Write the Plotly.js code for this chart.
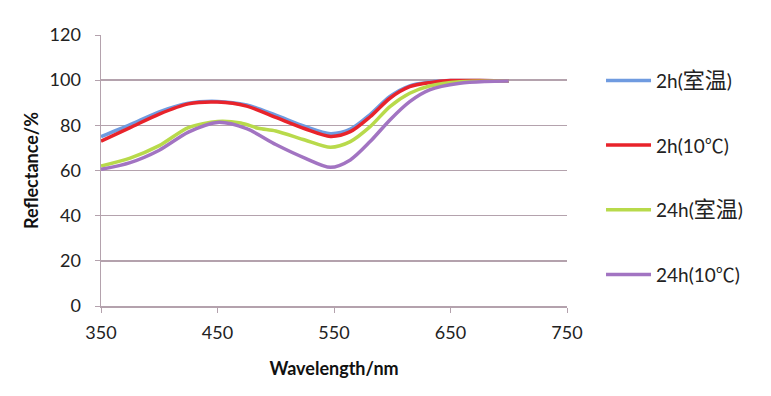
<!DOCTYPE html>
<html><head><meta charset="utf-8">
<script src="https://cdn.plot.ly/plotly-3.0.1.min.js"></script>
<style>html,body{margin:0;padding:0;background:#fff}#chart{width:771px;height:396px}</style>
</head><body><div id="chart"></div>
<script>
const seriesNames = ["2h(室温)", "2h(10℃)", "24h(室温)", "24h(10℃)"];
const colors = ["#6f9be0", "#e8232b", "#b8da4b", "#a274c2"];
const wlBlue = [350,375,400,425,450,475,500,525,547,564,581,598,615,632,650,675,700];
const blue   = [75,80.3,86,89.8,90.6,89,84.5,79.5,76.3,78.3,84.8,92.8,97.5,99.1,99.8,99.8,99.6];
const wlRed  = [350,375,400,425,450,475,500,525,547,564,581,598,615,632,650,675,700];
const red    = [73,79,85,89.5,90.3,88.5,83.5,78.5,75.1,77.2,83.8,92,97.1,98.9,99.8,99.8,99.6];
const wlGreen= [350,375,400,425,450,470,485,500,525,547,564,581,598,615,632,658,700];
const green  = [62,65.5,71,79,81.7,81,78.7,77.5,73.5,70.3,72.8,79.4,88.3,94.2,97.4,99.3,99.6];
const wlPurple=[350,375,400,425,450,475,500,525,547,564,581,598,615,632,658,680,700];
const purple = [60.5,63.5,69,77,81.3,78.5,71.5,65.5,61.4,64.7,72.8,82.4,90.5,95.7,98.6,99.4,99.6];
const xTicks = [350,450,550,650,750];
const yTicks = [0,20,40,60,80,100,120];

const cjk = s => s.replace(/([室温]+)/g, '<span style="font-size:22px">$1</span>');
const xs=[wlBlue,wlRed,wlGreen,wlPurple], ys=[blue,red,green,purple];
const traces = seriesNames.map((n,i)=>({
  x: xs[i], y: ys[i], name: cjk(n), type:'scatter', mode:'lines',
  legendgroup:'g'+i,
  line:{color:colors[i], width:3.5, shape:'spline', smoothing:0.8}
}));
const fontFam = 'Lato, "Noto Sans CJK SC", sans-serif';
const gridC = '#b4a2ad';
const layout = {
  width:771, height:396,
  margin:{l:101, r:204, t:35, b:90},
  paper_bgcolor:'#fff', plot_bgcolor:'#fff',
  font:{family:fontFam, size:18, color:'#222'},
  xaxis:{range:[350,750], tickvals:xTicks, ticktext:xTicks.map(String), showgrid:false, zeroline:false,
    showline:true, linecolor:gridC, linewidth:1.5, ticks:'outside', ticklen:5, tickcolor:gridC,
    ticklabelstandoff:5,
    tickfont:{size:18, color:'#222'},
    title:{text:'<b>Wavelength/nm</b>', font:{size:18, color:'#111'}, standoff:20}},
  yaxis:{range:[0,120], tickvals:yTicks, showgrid:true, gridcolor:gridC, gridwidth:1.5, zeroline:false,
    showline:true, linecolor:gridC, linewidth:1.5, ticks:'outside', ticklen:5, tickcolor:gridC,
    ticklabelstandoff:10,
    tickfont:{size:18, color:'#222'},
    title:{text:'<b>Reflectance/%</b>', font:{size:18, color:'#111'}, standoff:6}},
  showlegend:true,
  legend:{x:1.073, y:0.902, xanchor:'left', yanchor:'top', tracegroupgap:37, itemwidth:45,
    font:{size:19, color:'#222', family:fontFam}, bgcolor:'rgba(0,0,0,0)'}
};
Plotly.newPlot('chart', traces, layout, {staticPlot:true});
</script></body></html>
